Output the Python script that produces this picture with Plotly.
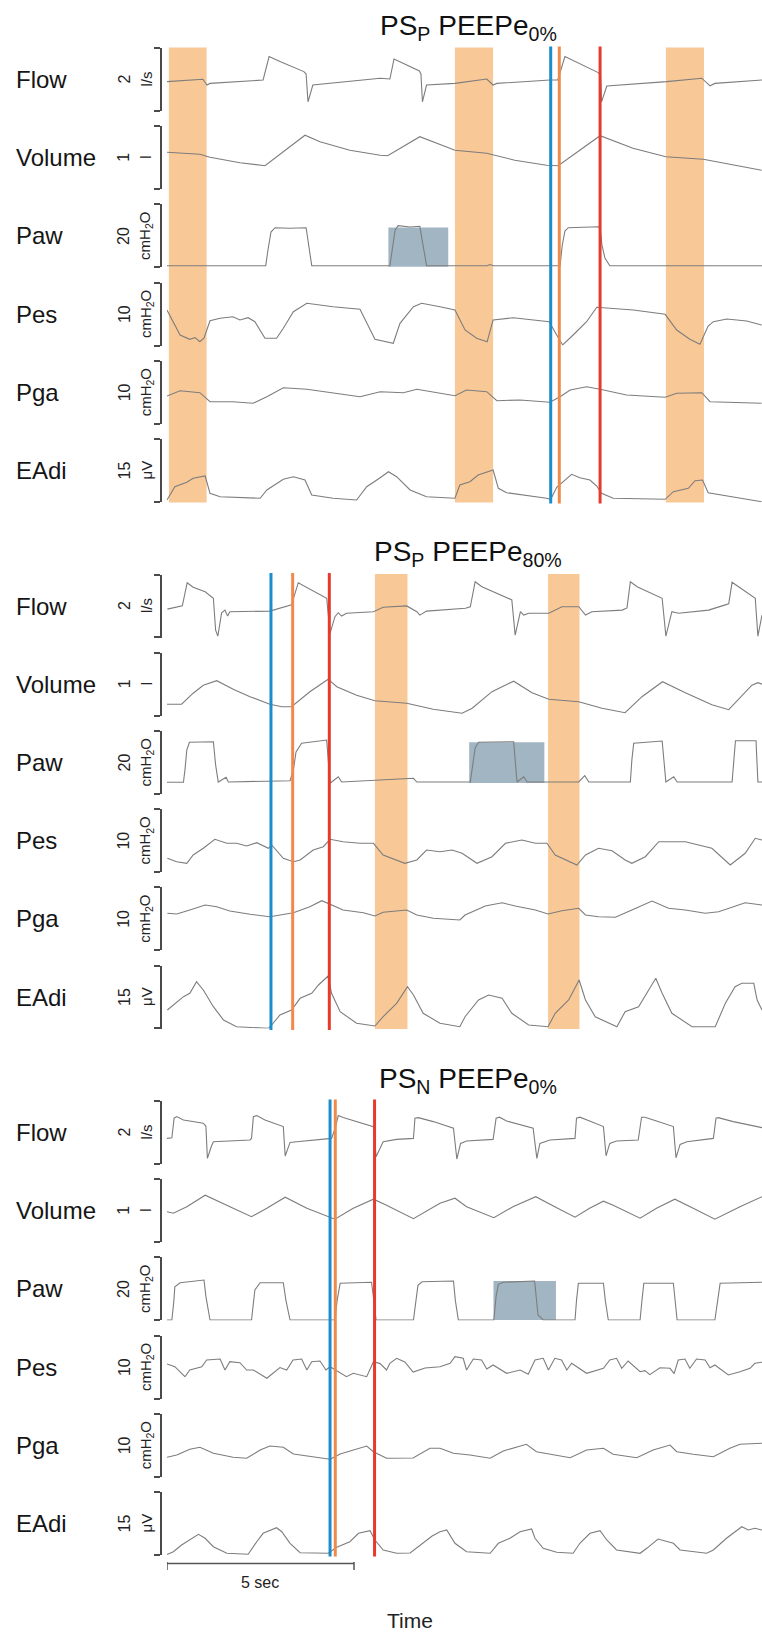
import plotly.graph_objects as go

# ---------------- DATA (time in s, values in channel units) ----------------
CHANNELS = ["Flow", "Volume", "Paw", "Pes", "Pga", "EAdi"]
TICK_LABELS = ["2", "1", "20", "10", "10", "15"]
UNITS = ["l/s", "l", "cmH<sub>2</sub>O", "cmH<sub>2</sub>O", "cmH<sub>2</sub>O", "μV"]
PANEL_TITLES = ["PS<sub>P</sub> PEEPe<sub>0%</sub>",
                "PS<sub>P</sub> PEEPe<sub>80%</sub>",
                "PS<sub>N</sub> PEEPe<sub>0%</sub>"]

# ---- panel 1 : PS_P PEEPe 0% ----
p1_flow = [(0, 0.02), (0.96, 0.14), (1.07, -0.15), (1.15, -0.07), (2.57, 0.10), (2.73, 1.27), (3.02, 1.02),
           (3.66, 0.52), (3.72, 0.40), (3.77, -0.99), (3.90, -0.15), (4.63, 0.00), (5.70, 0.19), (5.96, 0.15),
           (6.07, 1.15), (6.75, 0.55), (6.79, 0.40), (6.83, -0.99), (6.94, -0.15), (7.70, -0.07), (8.55, 0.15),
           (8.72, -0.15), (8.82, -0.07), (10.24, 0.10), (10.45, 0.10), (10.64, 1.27), (11.53, 0.47), (11.59, 0.35),
           (11.62, -0.99), (11.76, -0.20), (13.36, 0.02), (14.30, 0.19), (14.52, -0.19), (14.65, -0.07), (15.91, 0.10)]
p1_volume = [(0, 0.74), (0.88, 0.70), (1.15, 0.64), (1.95, 0.53), (2.62, 0.47), (3.69, 1.08), (4.09, 0.95),
             (4.89, 0.78), (5.70, 0.68), (5.90, 0.67), (6.76, 1.05), (7.70, 0.78), (8.55, 0.72), (9.30, 0.58),
             (10.15, 0.48), (10.46, 0.47), (11.58, 1.07), (12.46, 0.82), (13.34, 0.65), (14.34, 0.60), (15.90, 0.38)]
p1_paw = [(0, 0.85), (1.02, 0.85), (1.07, 1.2), (1.12, 0.85), (2.64, 0.85), (2.70, 8.7), (2.78, 17.7), (2.89, 19.85),
          (3.29, 19.55), (3.72, 19.85), (3.77, 13.7), (3.87, 0.85), (5.96, 0.85), (6.03, 11.2), (6.10, 18.7),
          (6.18, 20.85), (6.50, 20.2), (6.76, 20.55), (6.82, 13.7), (6.94, 0.85), (8.56, 0.85), (8.64, 1.45),
          (8.72, 0.85), (10.51, 0.85), (10.57, 11.2), (10.64, 18.2), (10.73, 19.85), (11.53, 20.35), (11.58, 19.7),
          (11.63, 11.2), (11.71, 4.7), (11.84, 0.85), (15.91, 0.85)]
p1_pes = [(0, 11.8), (0.35, -0.7), (0.61, -2.85), (0.75, -1.95), (0.88, -4.05), (0.99, -2.2), (1.15, 6.45),
          (1.42, 7.65), (1.76, 8.45), (1.95, 6.8), (2.17, 7.95), (2.35, 5.95), (2.62, -2.35), (2.93, -2.35),
          (3.11, 2.65), (3.38, 10.95), (3.74, 15.15), (4.44, 13.45), (5.16, 12.15), (5.43, 1.8), (5.56, -2.85),
          (6.05, -4.85), (6.23, 5.15), (6.59, 13.45), (6.81, 15.15), (7.30, 13.45), (7.70, 11.8), (7.97, 1.8),
          (8.28, -2.35), (8.56, -4.05), (8.72, 6.8), (9.26, 7.95), (9.79, 6.8), (10.22, 5.95), (10.42, -0.7),
          (10.58, -5.7), (10.86, -0.7), (11.22, 5.95), (11.49, 13.15), (12.47, 11.8), (13.32, 9.65), (13.63, 1.8),
          (13.98, -2.85), (14.25, -5.35), (14.47, 3.8), (14.61, 5.95), (14.97, 7.3), (15.50, 6.3), (15.90, 4.3)]
p1_pga = [(0, 13.9), (0.35, 16.55), (0.88, 15.55), (1.15, 11.05), (1.76, 11.05), (2.30, 10.25), (2.67, 13.55),
          (3.11, 18.05), (3.74, 17.25), (4.44, 15.25), (5.16, 13.55), (5.70, 16.05), (6.32, 15.55), (6.68, 17.25),
          (7.70, 14.05), (8.01, 16.9), (8.55, 16.05), (8.82, 11.55), (9.44, 11.9), (10.24, 10.75), (10.51, 13.55),
          (10.78, 16.9), (11.22, 18.55), (11.58, 17.25), (12.29, 14.4), (13.32, 13.25), (13.63, 15.25),
          (14.30, 15.55), (14.52, 11.05), (15.90, 10.25)]
p1_eadi = [(0, 1.0), (0.21, 7.65), (0.53, 9.85), (0.70, 11.85), (1.02, 13.0), (1.15, 4.35), (1.42, 2.65),
           (2.49, 1.85), (2.67, 6.0), (3.11, 11.35), (3.38, 12.65), (3.69, 11.0), (3.87, 3.5), (4.44, 1.85),
           (5.07, 1.0), (5.34, 7.65), (5.70, 12.15), (5.92, 15.15), (6.14, 12.65), (6.50, 6.0), (6.94, 2.65),
           (7.70, 1.85), (7.83, 8.5), (8.10, 10.15), (8.32, 13.5), (8.55, 14.85), (8.72, 16.0), (8.86, 6.85),
           (9.08, 4.65), (10.15, 1.85), (10.26, 1.35), (10.42, 7.35), (10.82, 13.85), (11.04, 12.15), (11.31, 11.0),
           (11.49, 8.0), (11.62, 4.35), (11.93, 1.85), (13.32, 1.35), (13.54, 5.15), (13.94, 6.85), (14.12, 10.65),
           (14.32, 11.0), (14.47, 4.65), (15.90, 0.15)]

# ---- panel 2 : PS_P PEEPe 80% ----
p2_flow = [(0.01, -0.03), (0.35, 0.09), (0.41, 0.13), (0.54, 1.29), (0.70, 1.06), (1.02, 0.84), (1.24, 0.51),
           (1.30, -1.08), (1.36, -1.38), (1.46, -0.21), (1.55, -0.08), (1.62, -0.38), (1.68, -0.16), (2.75, -0.13),
           (3.29, 0.13), (3.33, 0.18), (3.51, 1.29), (4.27, 0.51), (4.36, -1.24), (4.49, -0.41), (4.58, -0.21),
           (4.67, -0.38), (4.80, -0.24), (5.52, -0.16), (5.78, 0.06), (6.41, 0.13), (6.68, -0.16), (6.76, -0.33),
           (6.94, -0.13), (7.98, 0.01), (8.11, 0.08), (8.24, 1.34), (8.42, 1.09), (9.22, 0.43), (9.31, -1.33),
           (9.45, -0.16), (9.54, -0.33), (9.67, -0.24), (10.21, -0.24), (10.56, 0.09), (11.01, 0.09), (11.19, -0.33),
           (11.36, -0.16), (12.17, -0.08), (12.30, 0.03), (12.39, 1.34), (12.57, 1.09), (13.24, 0.51), (13.34, -1.38),
           (13.50, -0.16), (13.68, -0.24), (14.48, -0.08), (14.93, 0.18), (15.02, 0.23), (15.11, 1.31), (15.29, 1.09),
           (15.73, 0.51), (15.80, -1.38), (15.91, -0.33)]
p2_volume = [(0, 0.23), (0.39, 0.23), (0.70, 0.45), (0.97, 0.61), (1.33, 0.70), (1.77, 0.53), (2.22, 0.38),
             (2.75, 0.23), (3.07, 0.18), (3.33, 0.18), (3.82, 0.48), (4.31, 0.73), (4.54, 0.58), (5.07, 0.41),
             (5.56, 0.30), (6.41, 0.25), (7.12, 0.13), (7.89, 0.05), (8.16, 0.15), (8.69, 0.48), (9.27, 0.69),
             (9.76, 0.46), (10.21, 0.33), (11.01, 0.28), (11.63, 0.15), (12.25, 0.06), (12.70, 0.38), (13.25, 0.68),
             (13.86, 0.46), (14.57, 0.22), (15.02, 0.12), (15.64, 0.61), (15.80, 0.66), (15.91, 0.63)]
p2_paw = [(0, 5.8), (0.44, 5.8), (0.48, 12), (0.53, 22), (0.60, 25.8), (1.24, 26.1), (1.30, 14.5), (1.37, 5.95),
          (1.58, 8.3), (1.64, 5.95), (3.29, 6.6), (3.38, 12), (3.45, 21), (3.60, 25.3), (4.27, 26.95), (4.32, 17),
          (4.36, 5.3), (4.58, 8.6), (4.67, 5.95), (6.59, 7.8), (6.68, 5.95), (8.11, 5.95), (8.18, 14.5), (8.24, 23),
          (8.33, 25.8), (9.27, 26.1), (9.32, 14.5), (9.36, 5.95), (9.54, 8.6), (9.63, 5.95), (11.01, 5.95),
          (11.17, 9.1), (11.28, 5.95), (12.39, 5.95), (12.43, 17), (12.48, 25.3), (13.24, 26.45), (13.29, 14.5),
          (13.34, 5.95), (13.55, 8.6), (13.64, 5.95), (15.11, 5.95), (15.15, 17), (15.20, 26.6), (15.75, 26.6),
          (15.80, 5.95), (15.91, 5.95)]
p2_pes = [(0.01, 0.9), (0.26, -0.8), (0.53, -1.6), (0.70, 2.55), (0.97, 5.9), (1.28, 10.4), (1.60, 8.4),
          (1.86, 8.4), (2.13, 7.05), (2.40, 8.7), (2.71, 5.9), (2.80, 7.55), (3.11, 0.9), (3.38, -0.8), (3.56, 0.05),
          (3.91, 5.05), (4.18, 6.7), (4.36, 10.4), (4.71, 9.2), (5.16, 8.4), (5.52, 8.4), (5.78, 2.55), (6.36, -1.6),
          (6.68, 0.05), (6.94, 5.05), (7.30, 4.2), (7.62, 5.05), (7.89, 3.4), (8.29, -1.6), (8.69, 1.7), (9.05, 8.4),
          (9.49, 10.05), (9.85, 8.4), (10.16, 8.4), (10.38, 2.55), (10.96, -2.45), (11.19, 2.55), (11.54, 5.9),
          (11.90, 4.7), (12.25, 0.05), (12.43, -1.6), (12.79, 1.7), (13.15, 9.2), (13.86, 9.2), (14.57, 5.9),
          (15.06, -2.45), (15.46, 3.4), (15.73, 10.9), (15.91, 10.05)]
p2_pga = [(0.01, 18.5), (0.26, 18.15), (0.61, 20.15), (1.02, 22.65), (1.33, 21.8), (1.68, 19.65), (2.22, 18.0),
          (2.75, 16.8), (3.38, 18.8), (3.82, 21.8), (4.14, 24.8), (4.36, 23.15), (4.71, 20.15), (5.25, 18.8),
          (5.56, 17.15), (5.78, 19.0), (6.41, 20.15), (6.68, 17.65), (7.12, 16.0), (7.83, 15.15), (7.97, 17.65),
          (8.51, 22.15), (8.96, 23.8), (9.31, 22.15), (9.85, 20.15), (10.19, 18.15), (10.56, 19.8), (11.01, 21.0),
          (11.19, 17.65), (11.54, 16.8), (11.99, 16.5), (12.43, 20.15), (12.97, 24.65), (13.41, 21.0),
          (13.86, 20.15), (14.39, 18.5), (14.75, 19.3), (15.46, 23.8), (15.91, 22.65)]
p2_eadi = [(0.01, 9.25), (0.26, 13.4), (0.44, 15.9), (0.61, 17.6), (0.79, 23.4), (0.97, 19.25), (1.24, 10.9),
           (1.51, 4.25), (1.86, 0.9), (2.71, 0.1), (2.80, 1.75), (3.02, 6.75), (3.33, 9.25), (3.56, 15.1),
           (3.87, 17.6), (4.05, 21.75), (4.31, 26.25), (4.40, 17.6), (4.63, 8.4), (5.07, 2.6), (5.56, 1.25),
           (5.78, 5.9), (6.14, 12.6), (6.43, 20.9), (6.59, 16.75), (6.85, 7.6), (7.30, 2.6), (7.83, 0.9),
           (7.97, 5.9), (8.33, 14.25), (8.60, 16.75), (8.96, 15.1), (9.22, 7.6), (9.67, 1.75), (10.19, 0.9),
           (10.38, 7.6), (10.74, 14.25), (11.02, 24.25), (11.19, 14.25), (11.45, 5.9), (11.90, 1.75), (12.03, 0.9),
           (12.25, 8.4), (12.61, 10.9), (12.88, 19.25), (13.07, 25.1), (13.24, 17.6), (13.50, 7.6), (14.04, 0.9),
           (14.66, 0.9), (14.93, 12.6), (15.19, 20.9), (15.37, 22.6), (15.69, 22.6), (15.78, 14.25), (15.91, 9.25)]

# ---- panel 3 : PS_N PEEPe 0% ----
p3_flow = [(0.0, -0.17), (0.13, -0.14), (0.19, 0.84), (0.26, 0.92), (0.44, 0.75), (0.97, 0.59), (1.04, 0.45),
           (1.08, -1.17), (1.18, -0.6), (1.24, -0.34), (2.22, -0.25), (2.26, -0.17), (2.31, 0.92), (2.40, 0.97),
           (2.62, 0.75), (3.11, 0.42), (3.16, -1.05), (3.29, -0.37), (3.47, -0.34), (4.27, -0.2), (4.40, -0.17),
           (4.49, 0.3), (4.58, 0.97), (4.71, 0.87), (5.07, 0.67), (5.52, 0.42), (5.59, -1.09), (5.78, -0.34),
           (6.14, -0.22), (6.59, -0.17), (6.63, 0.84), (6.72, 0.87), (7.12, 0.67), (7.66, 0.34), (7.75, -1.2),
           (7.85, -0.42), (8.01, -0.3), (8.72, -0.22), (8.80, 0.84), (8.89, 0.89), (9.08, 0.7), (9.79, 0.34),
           (9.89, -1.17), (9.97, -0.42), (10.24, -0.25), (10.91, -0.17), (10.95, 0.84), (11.04, 0.89), (11.30, 0.7),
           (11.67, 0.42), (11.74, -1.04), (11.84, -0.42), (12.02, -0.3), (12.60, -0.25), (12.69, 0.89), (12.78, 0.89),
           (13.09, 0.7), (13.54, 0.42), (13.61, -1.14), (13.72, -0.47), (13.90, -0.34), (14.61, -0.17), (14.68, 0.84),
           (14.74, 0.87), (15.14, 0.67), (15.91, 0.37)]
p3_volume = [(0.0, 0.61), (0.17, 0.58), (0.53, 0.71), (1.02, 0.94), (1.77, 0.68), (2.26, 0.51), (2.67, 0.68),
             (3.16, 0.90), (3.74, 0.68), (4.49, 0.46), (4.98, 0.68), (5.52, 0.86), (5.87, 0.74), (6.59, 0.47),
             (7.30, 0.78), (7.70, 0.88), (8.01, 0.71), (8.74, 0.49), (9.25, 0.71), (9.86, 0.91), (10.42, 0.69),
             (10.91, 0.50), (11.30, 0.68), (11.67, 0.82), (11.93, 0.74), (12.65, 0.48), (13.09, 0.68), (13.58, 0.86),
             (14.07, 0.68), (14.65, 0.46), (15.32, 0.71), (15.91, 0.91)]
p3_paw = [(0, 0.2), (0.13, 0.2), (0.18, 9), (0.21, 16.85), (0.35, 18.85), (0.99, 20.2), (1.04, 12), (1.15, 0.2),
          (2.26, 0.2), (2.31, 8), (2.35, 15.2), (2.49, 18.85), (3.11, 18.85), (3.18, 10), (3.29, 0.2), (4.49, 0.2),
          (4.55, 10), (4.63, 18.55), (5.47, 19.05), (5.53, 10), (5.59, 0.2), (6.59, 0.2), (6.65, 10), (6.71, 17.5),
          (6.82, 19.3), (7.66, 19.7), (7.71, 10), (7.79, 0.2), (8.74, 0.2), (8.80, 12), (8.86, 18.05), (8.99, 19.05),
          (9.83, 19.7), (9.92, 2.7), (10.06, 0.2), (10.91, 0.2), (10.95, 10), (11.00, 18.55), (11.67, 18.55),
          (11.72, 10), (11.80, 0.2), (12.65, 0.2), (12.70, 10), (12.75, 18.55), (13.54, 18.55), (13.59, 10),
          (13.64, 0.2), (14.65, 0.2), (14.72, 10), (14.79, 18.55), (15.91, 19.05)]
p3_pes = [(0.0, 11.3), (0.21, 9.95), (0.48, 4.95), (0.61, 8.3), (0.93, 9.95), (1.06, 13.3), (1.42, 13.8),
          (1.55, 8.3), (1.68, 12.45), (1.95, 11.95), (2.13, 8.3), (2.31, 8.3), (2.67, 4.15), (2.93, 8.3),
          (3.02, 9.5), (3.20, 8.3), (3.37, 13.3), (3.60, 13.8), (3.74, 8.3), (3.87, 12.45), (4.09, 12.8),
          (4.25, 8.3), (4.36, 9.95), (4.80, 4.95), (4.98, 6.65), (5.34, 4.95), (5.52, 12.45), (5.70, 11.5),
          (5.87, 8.3), (5.96, 11.65), (6.14, 14.15), (6.36, 12.3), (6.58, 7.3), (6.90, 9.3), (7.30, 9.95),
          (7.57, 11.65), (7.70, 14.95), (7.92, 14.15), (8.01, 8.3), (8.19, 13.8), (8.41, 13.3), (8.55, 8.8),
          (8.72, 10.8), (9.08, 6.65), (9.44, 8.3), (9.66, 6.15), (9.84, 13.3), (10.06, 14.15), (10.20, 8.3),
          (10.37, 14.15), (10.55, 13.3), (10.69, 8.3), (10.82, 11.65), (11.22, 6.65), (11.67, 9.15), (11.84, 13.3),
          (12.02, 14.15), (12.16, 9.15), (12.33, 12.8), (12.65, 7.45), (12.78, 8.0), (12.91, 6.0), (13.18, 9.45),
          (13.45, 9.15), (13.56, 6.5), (13.67, 13.3), (13.85, 13.8), (13.98, 9.15), (14.16, 13.8), (14.39, 13.3),
          (14.52, 9.45), (14.65, 10.8), (15.01, 5.8), (15.32, 7.45), (15.59, 9.15), (15.72, 11.65), (15.91, 12.15)]
p3_pga = [(0, 9.75), (0.26, 10.9), (0.61, 13.75), (0.88, 14.75), (1.24, 11.75), (1.77, 9.75), (2.13, 9.25),
          (2.49, 13.4), (2.75, 15.4), (3.11, 14.75), (3.38, 11.4), (3.91, 10.05), (4.36, 8.75), (4.63, 11.4),
          (4.98, 13.4), (5.34, 15.4), (5.52, 12.55), (5.87, 9.25), (6.58, 9.4), (7.03, 14.25), (7.30, 14.25),
          (7.66, 11.75), (8.10, 10.9), (8.64, 9.25), (8.99, 12.9), (9.61, 16.25), (9.88, 12.55), (10.42, 10.9),
          (10.78, 9.55), (11.22, 13.4), (11.67, 14.25), (11.93, 11.25), (12.56, 9.55), (13.00, 13.4), (13.45, 15.9),
          (13.63, 12.55), (14.07, 11.25), (14.61, 10.05), (15.05, 14.25), (15.32, 16.25), (15.91, 16.75)]
p3_eadi = [(0, 0.25), (0.17, 1.65), (0.39, 5.0), (0.61, 7.5), (0.84, 10.35), (1.02, 8.35), (1.24, 4.15),
           (1.60, 0.85), (2.17, 0.35), (2.40, 6.65), (2.57, 10.85), (2.93, 13.65), (3.07, 11.65), (3.29, 5.85),
           (3.56, 1.15), (4.31, 0.85), (4.54, 3.85), (4.89, 6.65), (5.12, 10.85), (5.43, 12.15), (5.56, 7.5),
           (5.78, 2.5), (6.14, 0.85), (6.50, 1.0), (6.77, 5.0), (7.09, 9.5), (7.30, 11.65), (7.48, 12.5),
           (7.70, 5.85), (8.01, 1.65), (8.64, 0.85), (8.86, 5.85), (9.17, 8.35), (9.44, 11.65), (9.75, 13.0),
           (9.84, 8.35), (10.06, 3.35), (10.42, 1.35), (10.86, 0.85), (11.04, 5.85), (11.31, 10.85), (11.58, 12.15),
           (11.76, 7.5), (12.02, 2.5), (12.65, 0.85), (12.83, 3.35), (13.13, 8.0), (13.54, 5.85), (13.72, 2.5),
           (14.43, 0.85), (14.61, 2.5), (14.96, 8.35), (15.37, 14.15), (15.54, 12.5), (15.72, 13.35), (15.91, 12.5)]

PANEL_DATA = [
    [p1_flow, p1_volume, p1_paw, p1_pes, p1_pga, p1_eadi],
    [p2_flow, p2_volume, p2_paw, p2_pes, p2_pga, p2_eadi],
    [p3_flow, p3_volume, p3_paw, p3_pes, p3_pga, p3_eadi],
]
# ineffective-effort bands (s)
BANDS = [[(0.05, 1.06), (7.70, 8.72), (13.34, 14.36)],
         [(5.56, 6.43), (10.19, 11.03)],
         []]
# event lines (s): blue, orange, red
EVENTS = [[10.26, 10.49, 11.58], [2.78, 3.36, 4.34], [4.36, 4.50, 5.55]]
# highlighted breath in Paw: (t0, t1, low, high)
BOXES = [(5.92, 7.52, 0.3, 20.0), (8.08, 10.09, 5.5, 25.8), (8.73, 10.40, 0.2, 19.7)]
SCALE_SEC = 5

# ---------------- LAYOUT ----------------
W, H = 762, 1640
X_PLOT = 167
X_BRACKET = 161
T_MAX = 15.91
PANEL_TOPS = [48, 574.5, 1101]
ROW_STEP = 78.2
ROW_H = 63
RANGES = [(-1.45, 1.70), (0, 1.26), (0, 31.5), (-6, 25.5), (0, 31.5), (0, 31.5)]

FONT = "Liberation Sans, Arial, Helvetica, sans-serif"
TRACE_COL = "#7d7d7d"
AX_COL = "#4a4a4a"
ORANGE_BAND = "#f9c897"
EV_COLS = ["#1c8dcc", "#f08a4c", "#e63a2c"]
BOX_COL = "#a2b5c3"

def py(px):
    return 1 - px / H

fig = go.Figure()
layout = {}
shapes = []
annotations = []

for p in range(3):
    top0 = PANEL_TOPS[p]
    for r in range(6):
        idx = p * 6 + r + 1
        xs = "" if idx == 1 else str(idx)
        top = top0 + r * ROW_STEP
        bot = top + ROW_H
        lo, hi = RANGES[r]
        pts = PANEL_DATA[p][r]
        fig.add_trace(go.Scatter(
            x=[a for a, b in pts], y=[b for a, b in pts], mode="lines",
            line=dict(color=TRACE_COL, width=1.1), xaxis="x" + xs, yaxis="y" + xs,
            showlegend=False, hoverinfo="skip"))
        layout["xaxis" + xs] = dict(domain=[X_PLOT / W, 1], range=[0, T_MAX], visible=False,
                                    anchor="y" + xs, fixedrange=True)
        eps = (hi - lo) * 1e-4
        layout["yaxis" + xs] = dict(domain=[py(bot), py(top)], range=[lo, hi], anchor="free",
                                    position=X_BRACKET / W, showline=True, linecolor=AX_COL, linewidth=1.5,
                                    ticks="outside", ticklen=6, tickwidth=1.5, tickcolor=AX_COL,
                                    tickvals=[lo + eps, hi - eps], showticklabels=False,
                                    showgrid=False, zeroline=False, fixedrange=True)
        ymid = py((top + bot) / 2)
        annotations.append(dict(text=CHANNELS[r], x=14 / W, y=ymid, xref="paper", yref="paper",
                                xanchor="left", yanchor="middle", showarrow=False,
                                font=dict(family=FONT, size=24, color="#151515")))
        annotations.append(dict(text=TICK_LABELS[r], x=124 / W, y=ymid, xref="paper", yref="paper",
                                xanchor="center", yanchor="middle", showarrow=False, textangle=-90,
                                font=dict(family=FONT, size=16, color="#222")))
        annotations.append(dict(text=UNITS[r], x=146 / W, y=ymid, xref="paper", yref="paper",
                                xanchor="center", yanchor="middle", showarrow=False, textangle=-90,
                                font=dict(family=FONT, size=15, color="#222")))

    xref = "x" if p == 0 else "x" + str(p * 6 + 1)
    y_top = py(top0 - 0.5)
    y_bot = py(top0 + 5 * ROW_STEP + ROW_H + 0.5)
    for t0, t1 in BANDS[p]:
        shapes.append(dict(type="rect", xref=xref, yref="paper", x0=t0, x1=t1, y0=y_bot, y1=y_top,
                           fillcolor=ORANGE_BAND, line=dict(width=0), layer="below"))
    for t, c in zip(EVENTS[p], EV_COLS):
        shapes.append(dict(type="line", xref=xref, yref="paper", x0=t, x1=t, y0=y_bot - 1 / H, y1=y_top + 1 / H,
                           line=dict(color=c, width=3)))
    paw_idx = p * 6 + 3
    b = BOXES[p]
    shapes.append(dict(type="rect", xref="x" + str(paw_idx), yref="y" + str(paw_idx), x0=b[0], x1=b[1],
                       y0=b[2], y1=b[3], fillcolor=BOX_COL, line=dict(width=0), layer="below"))
    annotations.append(dict(text=PANEL_TITLES[p], x=468 / W, y=py(top0 - 21), xref="paper", yref="paper",
                            xanchor="center", yanchor="middle", showarrow=False,
                            font=dict(family=FONT, size=28, color="#111")))

# time scale bar on the last panel's time axis
sb_y = py(1563.5)
shapes.append(dict(type="line", xref="x18", yref="paper", x0=0, x1=SCALE_SEC, y0=sb_y, y1=sb_y,
                   line=dict(color="#555", width=1.5)))
for t in (0, SCALE_SEC):
    shapes.append(dict(type="line", xref="x18", yref="paper", x0=t, x1=t, y0=py(1570), y1=py(1562),
                       line=dict(color="#555", width=1.5)))
annotations.append(dict(text=f"{SCALE_SEC} sec", x=SCALE_SEC / 2, y=py(1582), xref="x18", yref="paper",
                        xanchor="center", yanchor="middle", showarrow=False,
                        font=dict(family=FONT, size=16, color="#222")))
annotations.append(dict(text="Time", x=410 / W, y=py(1620), xref="paper", yref="paper",
                        xanchor="center", yanchor="middle", showarrow=False,
                        font=dict(family=FONT, size=21, color="#222")))

fig.update_layout(**layout)
fig.update_layout(width=W, height=H, margin=dict(l=0, r=0, t=0, b=0), autosize=False,
                  paper_bgcolor="white", plot_bgcolor="rgba(0,0,0,0)",
                  shapes=shapes, annotations=annotations, showlegend=False)
fig.write_html("out.html", config={"displayModeBar": False})
